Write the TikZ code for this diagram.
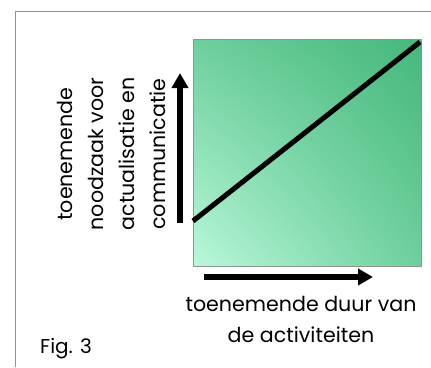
\documentclass[tikz,border=0pt]{standalone}
\usepackage{fontspec}
\setmainfont{Poppins}
\usetikzlibrary{arrows.meta,shadings}
\definecolor{mint}{HTML}{BAF8DA}
\definecolor{midgreen}{HTML}{6ECF9D}
\definecolor{darkgreen}{HTML}{45B87C}
\definecolor{framegray}{HTML}{8E948F}
\begin{document}
\begin{tikzpicture}
    [ x=1pt, y=-1pt,
      pijl/.style={line width=5.5pt, -{Triangle[length=15pt,width=16pt]}},
      label/.style={font=\fontsize{20.6}{31}\selectfont, align=center, inner sep=0pt} ]

    \useasboundingbox (0,0) rectangle (431,367);

    % kader
    \draw[framegray, line width=1pt] (15,367) -- (15,11) -- (431,11);

    % vlak met verloop
    \shade[lower left=mint, lower right=midgreen, upper left=midgreen, upper right=darkgreen]
        (193,266) rectangle (421,39);
    \draw[framegray, line width=0.8pt] (193,266) rectangle (421,39);

    \coordinate (l1) at (193,221);
    \coordinate (l2) at (420,42);
    \draw[line width=5pt] (l1) -- (l2);

    % assen
    \coordinate (v1) at (180,223);
    \coordinate (v2) at (180,73);
    \coordinate (h1) at (204,277);
    \coordinate (h2) at (373,277);
    \draw[pijl] (v1) -- (v2);
    \draw[pijl] (h1) -- (h2);

    \node (ylab) at (111,154) [label, rotate=90]
        {toenemende\\noodzaak voor\\actualisatie en\\communicatie};
    \node (xlab) at (301,319) [label]
        {toenemende duur van\\de activiteiten};
    \node (fig) at (66,349) [font=\fontsize{20}{24}\selectfont, inner sep=0pt] {Fig. 3};

\end{tikzpicture}
\end{document}
